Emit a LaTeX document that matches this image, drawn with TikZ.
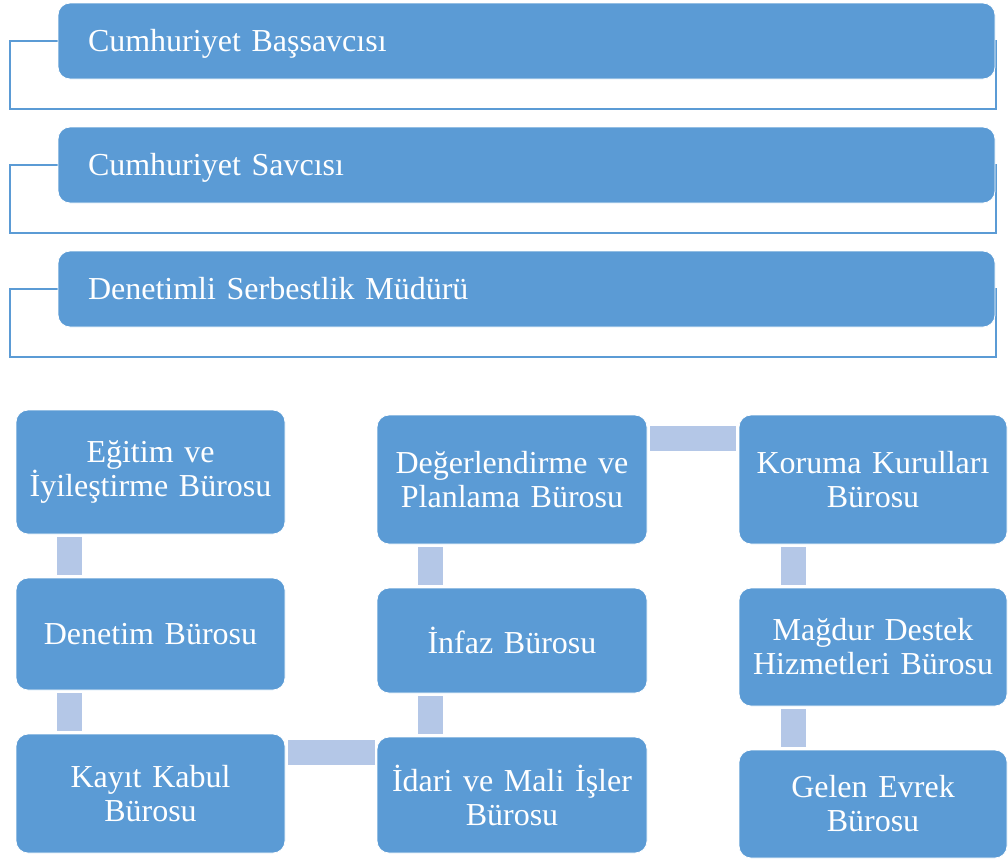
\documentclass[tikz,border=0pt]{standalone}
\usepackage{fontspec}
\setmainfont{Liberation Serif}
\usetikzlibrary{calc}
\definecolor{boxblue}{HTML}{5B9BD5}
\definecolor{barblue}{HTML}{B4C7E7}
\tikzset{
  topbox/.style={rectangle, rounded corners=12pt, fill=boxblue, draw=white, line width=0.8pt,
    minimum width=937pt, minimum height=76pt, text width=877pt, inner xsep=30pt, inner ysep=0pt,
    align=left, text=white, font=\fontsize{32}{34}\selectfont, text height=21pt, text depth=0pt},
  orgbox/.style={rectangle, rounded corners=12pt, fill=boxblue, draw=white, line width=0.8pt,
    inner sep=0pt, text width=260pt, align=center, text=white, font=\fontsize{32}{34}\selectfont},
  bracket/.style={draw=boxblue, line width=2pt},
  vbar/.style={draw=barblue, line width=25pt},
  hbar/.style={draw=barblue, line width=25pt},
}
\begin{document}
\begin{tikzpicture}[x=1pt,y=-1pt]
\useasboundingbox (0,0) rectangle (1008,860);
% brackets
\coordinate (b1a) at (58,41);
\coordinate (b1b) at (10,41);
\coordinate (b1c) at (10,109);
\coordinate (b1d) at (996,109);
\coordinate (b1e) at (996,40);
\draw[bracket] (b1a) -- (b1b) -- (b1c) -- (b1d) -- (b1e);
\coordinate (b2a) at (58,165);
\coordinate (b2b) at (10,165);
\coordinate (b2c) at (10,233);
\coordinate (b2d) at (996,233);
\coordinate (b2e) at (996,164);
\draw[bracket] (b2a) -- (b2b) -- (b2c) -- (b2d) -- (b2e);
\coordinate (b3a) at (58,289);
\coordinate (b3b) at (10,289);
\coordinate (b3c) at (10,357);
\coordinate (b3d) at (996,357);
\coordinate (b3e) at (996,288);
\draw[bracket] (b3a) -- (b3b) -- (b3c) -- (b3d) -- (b3e);
% top boxes
\node[topbox] (t1) at (526.5,41) {Cumhuriyet Başsavcısı};
\node[topbox] (t2) at (526.5,165) {Cumhuriyet Savcısı};
\node[topbox] (t3) at (526.5,289) {Denetimli Serbestlik Müdürü};
% column 1
\node[orgbox, minimum width=269pt, minimum height=124pt] (egt) at (150.5,472) {Eğitim ve\\İyileştirme Bürosu};
\node[orgbox, minimum width=269pt, minimum height=112pt] (den) at (150.5,634) {Denetim Bürosu};
\node[orgbox, minimum width=269pt, minimum height=119pt] (kay) at (150.5,793.5) {Kayıt Kabul\\Bürosu};
% column 2
\node[orgbox, minimum width=270pt, minimum height=129pt] (deg) at (512,479.5) {Değerlendirme ve\\Planlama Bürosu};
\node[orgbox, minimum width=270pt, minimum height=105pt] (inf) at (512,640.5) {İnfaz Bürosu};
\node[orgbox, minimum width=270pt, minimum height=116pt] (ida) at (512,795) {İdari ve Mali İşler\\Bürosu};
% column 3
\node[orgbox, minimum width=268pt, minimum height=129pt] (kor) at (873,479.5) {Koruma Kurulları\\Bürosu};
\node[orgbox, minimum width=268pt, minimum height=118pt] (mag) at (873,647) {Mağdur Destek\\Hizmetleri Bürosu};
\node[orgbox, minimum width=268pt, minimum height=108pt] (gel) at (873,804) {Gelen Evrek\\Bürosu};
% vertical bars
\draw[vbar] ($(egt.south west)+(53.5,3)$) -- ($(den.north west)+(53.5,-3)$);
\draw[vbar] ($(den.south west)+(53.5,3)$) -- ($(kay.north west)+(53.5,-3)$);
\draw[vbar] ($(deg.south west)+(53.5,3)$) -- ($(inf.north west)+(53.5,-3)$);
\draw[vbar] ($(inf.south west)+(53.5,3)$) -- ($(ida.north west)+(53.5,-3)$);
\draw[vbar] ($(kor.south west)+(54.5,3)$) -- ($(mag.north west)+(54.5,-3)$);
\draw[vbar] ($(mag.south west)+(54.5,3)$) -- ($(gel.north west)+(54.5,-3)$);
% horizontal bars
\draw[hbar] ($(kay.north east)+(3,19)$) -- ($(ida.north west |- kay.north)+(-2,19)$);
\draw[hbar] ($(deg.north east)+(3,23.5)$) -- ($(kor.north west)+(-3,23.5)$);
\end{tikzpicture}
\end{document}
